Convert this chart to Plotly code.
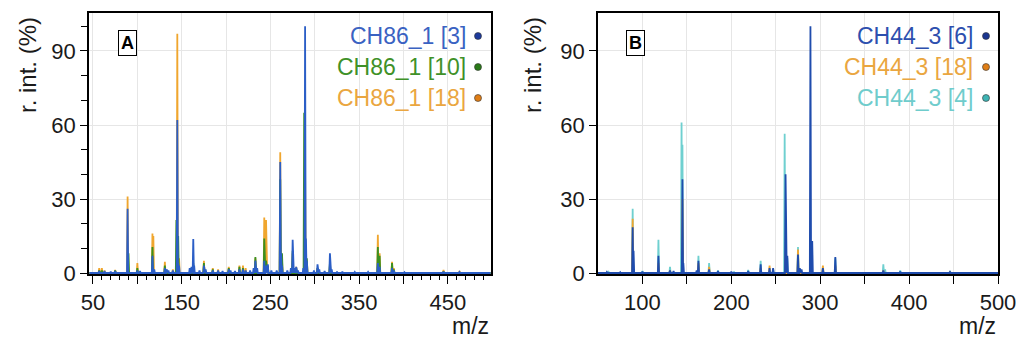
import plotly.graph_objects as go

# ---------------- data (m/z : relative intensity %) ----------------
# Panel A
a_blue_mz = [57, 63, 70, 75, 89, 100, 103, 117, 119, 131, 133, 135, 140, 145, 146, 147, 159, 161, 163, 164,
             170, 175, 177, 185, 191, 196, 203, 205, 210, 215, 219, 222, 227, 231, 233, 235, 243, 245, 247, 251,
             257, 261, 262, 263, 269, 273, 275, 277, 279, 281, 287, 289, 290, 291, 299, 303, 305, 311, 317, 319,
             325, 331, 345, 360, 371, 373, 387, 389, 401, 415, 445, 463]
a_blue_int = [0.8, 0.8, 0.5, 0.8, 26, 1, 0.8, 7, 1.5, 2, 1.5, 1, 1, 62, 4, 3, 2, 2.5, 13.8, 3,
              1, 3, 1.5, 1, 1, 0.8, 1.5, 1, 0.8, 1.5, 1.5, 1, 1, 2, 5, 2, 5, 3, 3.5, 1,
              1, 45, 8, 3, 1, 2, 13.5, 2, 2.5, 1, 2, 100, 14, 5, 1, 3.5, 1.5, 0.8, 8, 1.5,
              0.6, 0.5, 0.4, 0.4, 4, 2.5, 2, 1, 0.3, 0.3, 0.5, 0.4]

a_green_mz = [57, 60, 75, 90, 100, 117, 131, 144, 146, 163, 175, 185, 203, 215, 219, 233, 243, 245, 247, 261,
              263, 275, 279, 288, 291, 303, 317, 371, 373, 387, 389, 445]
a_green_int = [1, 1, 1, 8, 2, 10.5, 3, 21.5, 15, 4, 4, 1.5, 2, 2.5, 2, 6.5, 14, 5, 3, 38,
               8, 9, 2, 65, 6, 2, 4, 10.5, 7, 4, 1.5, 0.6]

a_orange_mz = [57, 60, 63, 75, 89, 100, 117, 118, 131, 140, 145, 147, 163, 175, 185, 191, 203, 215, 219, 222,
               233, 243, 245, 247, 261, 263, 275, 279, 289, 291, 303, 317, 371, 373, 387, 389, 445, 463]
a_orange_int = [2, 2, 1, 1.2, 31, 4, 16, 15, 4.5, 1.5, 97, 6, 3, 5, 2, 1.5, 2.5, 3, 3, 2,
                6, 22.5, 21.5, 3, 49, 5, 8, 2.5, 40, 5, 2, 3, 15.5, 8, 4.5, 2, 1.2, 0.8]

# Panel B
b_blue_mz = [60, 75, 89, 90, 100, 118, 131, 135, 145, 146, 161, 163, 175, 185, 200, 219, 233, 243, 247, 261,
             263, 275, 277, 279, 289, 291, 303, 317, 371, 390, 446]
b_blue_int = [0.4, 0.3, 18.5, 9, 0.5, 7, 1, 0.8, 38, 4, 1, 5, 1.5, 0.8, 0.5, 0.8, 3.5, 2, 2, 40,
              7, 7.5, 2, 1.5, 100, 13, 2, 6.5, 1, 0.5, 0.4]

b_orange_mz = [89, 118, 131, 145, 163, 175, 233, 243, 261, 275, 289, 303, 317, 371, 446]
b_orange_int = [22, 4, 1, 30, 4, 2.5, 2, 3, 8, 9.5, 12, 3, 3, 1, 0.5]

b_cyan_mz = [62, 89, 100, 118, 131, 144, 145, 163, 175, 185, 203, 219, 233, 247, 260, 263, 275, 303, 317, 371,
             373, 390, 446]
b_cyan_int = [0.4, 26, 0.8, 13.5, 2.5, 61, 52, 7, 4, 1, 0.6, 1.2, 5, 1.5, 56.5, 6, 10.5, 2, 6, 3.5,
              1.5, 1, 0.8]

names_a = ["CH86_1 [3]", "CH86_1 [10]", "CH86_1 [18]"]
names_b = ["CH44_3 [6]", "CH44_3 [18]", "CH44_3 [4]"]

# ---------------- styling ----------------
W, H = 1017, 340
FONT = "Liberation Sans, Arial, sans-serif"
C_BLUE_A = "#2b5ec6"
C_GREEN = "#3b8f1f"
C_ORANGE = "#f0a62e"
C_BLUE_B = "#1f4cad"
C_CYAN = "#6fd0d0"


def profile(mz, inten, lo, hi, w=0.7):
    xs, ys = [lo], [0]
    for m, v in sorted(zip(mz, inten)):
        xs += [m - w, m, m + w]
        ys += [0, v, 0]
    xs.append(hi)
    ys.append(0)
    return xs, ys


fig = go.Figure()

for mz, it, col in [(a_orange_mz, a_orange_int, C_ORANGE),
                    (a_green_mz, a_green_int, C_GREEN),
                    (a_blue_mz, a_blue_int, C_BLUE_A)]:
    x, y = profile(mz, it, 46, 498)
    fig.add_trace(go.Scatter(x=x, y=y, mode="lines", line=dict(color=col, width=1.8),
                             xaxis="x", yaxis="y", showlegend=False, hoverinfo="skip"))

for mz, it, col in [(b_cyan_mz, b_cyan_int, C_CYAN),
                    (b_orange_mz, b_orange_int, C_ORANGE),
                    (b_blue_mz, b_blue_int, C_BLUE_B)]:
    x, y = profile(mz, it, 50, 500)
    fig.add_trace(go.Scatter(x=x, y=y, mode="lines", line=dict(color=col, width=1.8),
                             xaxis="x2", yaxis="y2", showlegend=False, hoverinfo="skip"))

ydom = [(H - 274) / H, (H - 13) / H]
dom_a = [89 / W, 491 / W]
dom_b = [598 / W, 998 / W]

axis_common = dict(showline=True, linecolor="black", linewidth=1.5, mirror=True, automargin=False,
                   showgrid=True, gridcolor="#e6e6e6", gridwidth=1, zeroline=False,
                   ticks="outside", tickcolor="black", tickwidth=1.2,
                   tickfont=dict(family=FONT, size=22, color="#1a1a1a"))

a_ticks = list(range(50, 500, 50))
b_ticks = list(range(100, 501, 50))

fig.update_layout(
    width=W, height=H, margin=dict(l=0, r=0, t=0, b=0, autoexpand=False),
    paper_bgcolor="white", plot_bgcolor="white", showlegend=False,
    xaxis=dict(axis_common, domain=dom_a, range=[45.5, 498.5], anchor="y",
               tickvals=a_ticks, ticktext=[str(v) if v % 100 == 50 else "" for v in a_ticks],
               ticklen=8,
               minor=dict(dtick=10, tick0=0, ticks="outside", ticklen=4, tickcolor="black", showgrid=False)),
    yaxis=dict(axis_common, domain=ydom, range=[-0.4, 105.4], anchor="x",
               tickvals=[0, 30, 60, 90], ticklen=7,
               minor=dict(dtick=10, tick0=0, ticks="outside", ticklen=6, tickcolor="black", showgrid=False)),
    xaxis2=dict(axis_common, domain=dom_b, range=[50, 500], anchor="y2",
                tickvals=b_ticks, ticktext=[str(v) if v % 100 == 0 else "" for v in b_ticks],
                ticklen=8),
    yaxis2=dict(axis_common, domain=ydom, range=[-0.4, 105.4], anchor="x2",
                tickvals=[0, 30, 60, 90], ticklen=7),
)

ann = []
shapes = []


def px(xp):
    return xp / W


def py(yp):
    return 1 - yp / H


for xr in [(27, 491), (532, 998)]:
    ann.append(dict(x=px(xr[0]), y=py(65), xref="paper", yref="paper", text="r. int. (%)",
                    textangle=-90, showarrow=False, xanchor="center", yanchor="middle",
                    font=dict(family=FONT, size=24, color="#1a1a1a")))
    ann.append(dict(x=px(xr[1]), y=py(326), xref="paper", yref="paper", text="m/z",
                    showarrow=False, xanchor="right", yanchor="middle",
                    font=dict(family=FONT, size=23, color="#1a1a1a")))

# panel letters
for xc, lab in [(127, "A"), (635, "B")]:
    ann.append(dict(x=px(xc), y=py(43), xref="paper", yref="paper", text="<b>%s</b>" % lab,
                    showarrow=False, xanchor="center", yanchor="middle",
                    bordercolor="black", borderwidth=1, borderpad=2, bgcolor="white",
                    font=dict(family=FONT, size=18, color="black")))

# legends
leg_a = [(names_a[0], "#3a62c2", "#1d3a9c"), (names_a[1], "#3f9128", "#2a7a18"), (names_a[2], "#eaa640", "#e07e16")]
leg_b = [(names_b[0], "#2d4fae", "#1a3590"), (names_b[1], "#eaa640", "#e07e16"), (names_b[2], "#6fcccc", "#3eb4b4")]
rows = [36, 67, 98]
for leg, xt, xd in [(leg_a, 468, 478), (leg_b, 975, 986)]:
    for (txt, tc, dc), yr in zip(leg, rows):
        ann.append(dict(x=px(xt), y=py(yr), xref="paper", yref="paper", text=txt, showarrow=False,
                        xanchor="right", yanchor="middle",
                        font=dict(family=FONT, size=23, color=tc)))
        r = 3.5
        shapes.append(dict(type="circle", xref="paper", yref="paper",
                           x0=px(xd - r), x1=px(xd + r), y0=py(yr + r), y1=py(yr - r),
                           fillcolor=dc, line=dict(color="#333333", width=0.6)))

fig.update_layout(annotations=ann, shapes=shapes)
fig.write_html("out.html", config={"displayModeBar": False},
               post_script="document.body.style.margin='0px';document.body.style.overflow='hidden';")
